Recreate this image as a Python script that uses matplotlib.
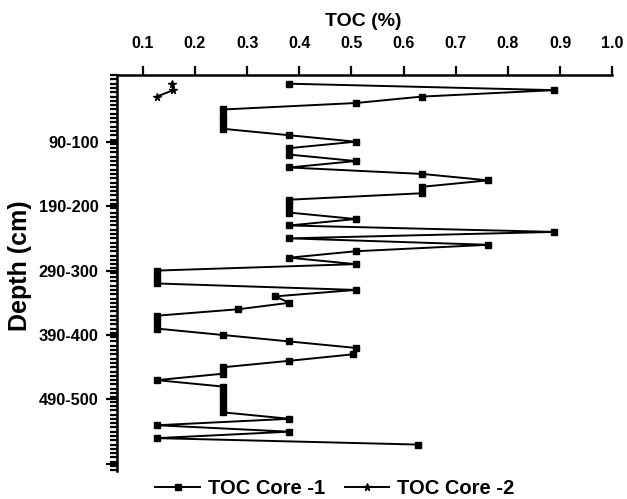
import matplotlib
matplotlib.use("Agg")
import matplotlib.pyplot as plt
from matplotlib.ticker import FixedLocator, MultipleLocator

# ---- data ----
# sample index (0 = 0-10 cm, 1 = 10-20 cm, ...)
core1_idx = list(range(57))
core1_toc = [0.381, 0.889, 0.635, 0.508, 0.254, 0.254, 0.254, 0.254, 0.381, 0.508,
             0.381, 0.381, 0.508, 0.381, 0.635, 0.762, 0.635, 0.635, 0.381, 0.381,
             0.381, 0.508, 0.381, 0.889, 0.381, 0.762, 0.508, 0.381, 0.508, 0.127,
             0.127, 0.127, 0.508, 0.354, 0.381, 0.283, 0.127, 0.127, 0.127, 0.254,
             0.381, 0.508, 0.502, 0.381, 0.254, 0.254, 0.127, 0.254, 0.254, 0.254,
             0.254, 0.254, 0.381, 0.127, 0.381, 0.127, 0.628]
core2_idx = [0, 1, 2]
core2_toc = [0.156, 0.158, 0.127]

ytick_pos = [9, 19, 29, 39, 49, 59]
ytick_labels = ["90-100", "190-200", "290-300", "390-400", "490-500", ""]
xticks = [0.1, 0.2, 0.3, 0.4, 0.5, 0.6, 0.7, 0.8, 0.9, 1.0]

plt.rcParams['font.family'] = ['Liberation Sans', 'DejaVu Sans']
plt.rcParams['font.weight'] = 'bold'

fig = plt.figure(figsize=(6.27, 4.99), dpi=100)
W, H = 627, 499
left, right, top, bottom = 116.7, 612.3, 75, 471
ax = fig.add_axes([left / W, 1 - bottom / H, (right - left) / W, (bottom - top) / H])

ax.plot(core1_toc, core1_idx, color='black', lw=1.4, marker='s', ms=3.8,
        mfc='black', mec='black', label='TOC Core -1')
ax.plot(core2_toc, core2_idx, color='black', lw=1.4, marker='*', ms=5.5,
        mfc='black', mec='black', label='TOC Core -2')

ax.set_xlim(0.05, 1.0)
ax.set_ylim(60.1, -1.35)

ax.xaxis.tick_top()
ax.xaxis.set_label_position('top')
ax.set_xticks(xticks)
ax.set_xticklabels([f"{v:.1f}" for v in xticks], fontsize=11.5, fontweight='bold')
ax.tick_params(axis='x', which='major', direction='out', length=6.5, width=1.6, pad=11)

ax.yaxis.set_major_locator(FixedLocator(ytick_pos))
ax.set_yticklabels(ytick_labels, fontsize=11.8, fontweight='bold')
ax.yaxis.set_minor_locator(MultipleLocator(2 / 3))
ax.tick_params(axis='y', which='major', direction='out', length=8, width=1.6, pad=5)
ax.tick_params(axis='y', which='minor', direction='out', length=5, width=1.6)

for s in ['right', 'bottom']:
    ax.spines[s].set_visible(False)
for s in ['left', 'top']:
    ax.spines[s].set_linewidth(1.8)

fig.text(363 / W, 1 - 21 / H, "TOC (%)", ha='center', va='center',
         fontsize=14, fontweight='bold')
fig.text(20 / W, 1 - 266 / H, "Depth (cm)", ha='center', va='center',
         rotation=90, fontsize=18, fontweight='bold')

fig.legend(loc='center', bbox_to_anchor=(335 / W, 1 - 489 / H), ncol=2,
           frameon=False, prop={'size': 14.5, 'weight': 'bold'},
           handlelength=2.2, handletextpad=0.4, columnspacing=1.0,
           borderaxespad=0, borderpad=0)

fig.savefig("out.png", dpi=100)
